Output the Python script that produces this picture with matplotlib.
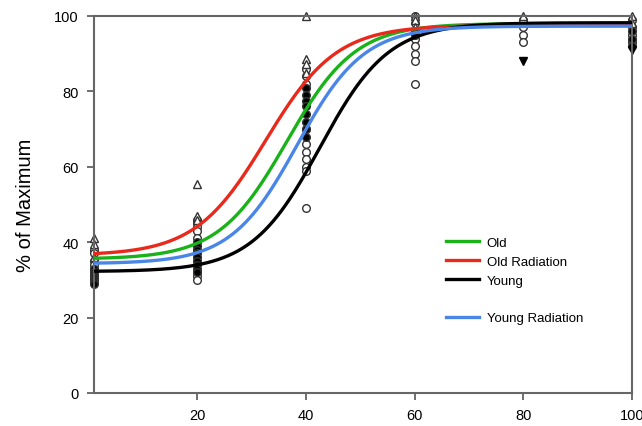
import matplotlib.pyplot as plt
import numpy as np
from matplotlib.lines import Line2D

plt.rcParams['font.family'] = ['Liberation Sans', 'DejaVu Sans']

# fitted sigmoid parameters per group: bottom, top, x50, slope
groups = ['Old', 'Old Radiation', 'Young', 'Young Radiation']
colors = ['#19b319', '#e8291c', '#000000', '#4a86e8']
bottoms = [35.5, 36.5, 32.2, 34.3]
tops = [98.0, 97.5, 98.2, 97.3]
x50s = [36.5, 32.6, 42.6, 38.4]
slopes = [6.3, 6.5, 6.3, 6.1]

# raw observations, by marker type
open_circle_x = [1] * 6 + [20] * 10 + [40] * 10 + [60] * 8 + [80] * 4 + [100] * 4
open_circle_y = [38, 37, 35, 34, 33, 31,
                 46, 45, 44, 43, 41, 38, 35, 32, 31, 30,
                 86, 84, 82, 70, 66, 64, 62, 60, 59, 49,
                 100, 98, 96, 94, 92, 90, 88, 82,
                 99, 97, 95, 93,
                 99, 97, 95, 93]
open_tri_x = [1] * 3 + [20] * 3 + [40] * 4 + [60] * 3 + [80] + [100] * 2
open_tri_y = [41, 39.5, 36,
              55.5, 47, 46,
              100, 88.6, 87.3, 85,
              100, 99, 97,
              100,
              100, 98]
filled_circle_x = [1] * 8 + [20] * 9 + [40] * 8 + [60] * 2 + [100] * 3
filled_circle_y = [33, 32, 31.5, 31, 30.5, 30, 29.5, 29,
                   40, 39, 38, 37, 36, 35, 34, 33, 32,
                   81, 79, 77.5, 76, 74, 72, 70, 68,
                   96, 95,
                   96, 94, 92]
filled_down_x = [80, 100]
filled_down_y = [88, 91]

fig = plt.figure(figsize=(6.42, 4.27), dpi=100)
ax = fig.add_axes([0.1464, 0.0773, 0.838, 0.883])

mk = dict(linestyle='none', markersize=5.5, markeredgewidth=1.0, clip_on=False, zorder=2)
ax.plot(open_circle_x, open_circle_y, marker='o', mfc='white', mec='#333333', **mk)
ax.plot(open_tri_x, open_tri_y, marker='^', mfc='white', mec='#333333', **mk)
ax.plot(filled_circle_x, filled_circle_y, marker='o', mfc='black', mec='#333333', **mk)
ax.plot(filled_down_x, filled_down_y, marker='v', mfc='black', mec='black', **mk)

xs = np.linspace(1, 100, 400)
handles = {}
for name, c, b, t, x0, s in zip(groups, colors, bottoms, tops, x50s, slopes):
    ys = b + (t - b) / (1 + np.exp(-(xs - x0) / s))
    handles[name], = ax.plot(xs, ys, color=c, linewidth=2.4, zorder=3)

blank = Line2D([], [], color='none')
ax.legend([handles['Old'], handles['Old Radiation'], handles['Young'], blank,
           handles['Young Radiation']],
          ['Old', 'Old Radiation', 'Young', '', 'Young Radiation'],
          loc='upper left', bbox_to_anchor=(0.632, 0.446), frameon=False,
          fontsize=9.5, handlelength=2.5, handletextpad=0.6, labelspacing=0.5)

ax.set_xlim(1, 100)
ax.set_ylim(0, 100)
ax.set_xticks([20, 40, 60, 80, 100])
ax.set_yticks([0, 20, 40, 60, 80, 100])
ax.tick_params(direction='out', length=5, width=1.2, color='#555555',
               labelsize=10.5, pad=6)
for sp in ax.spines.values():
    sp.set_color('#666666')
    sp.set_linewidth(1.5)
ax.set_ylabel('% of Maximum', fontsize=14.5, labelpad=14)

fig.savefig('out.png', dpi=100)
